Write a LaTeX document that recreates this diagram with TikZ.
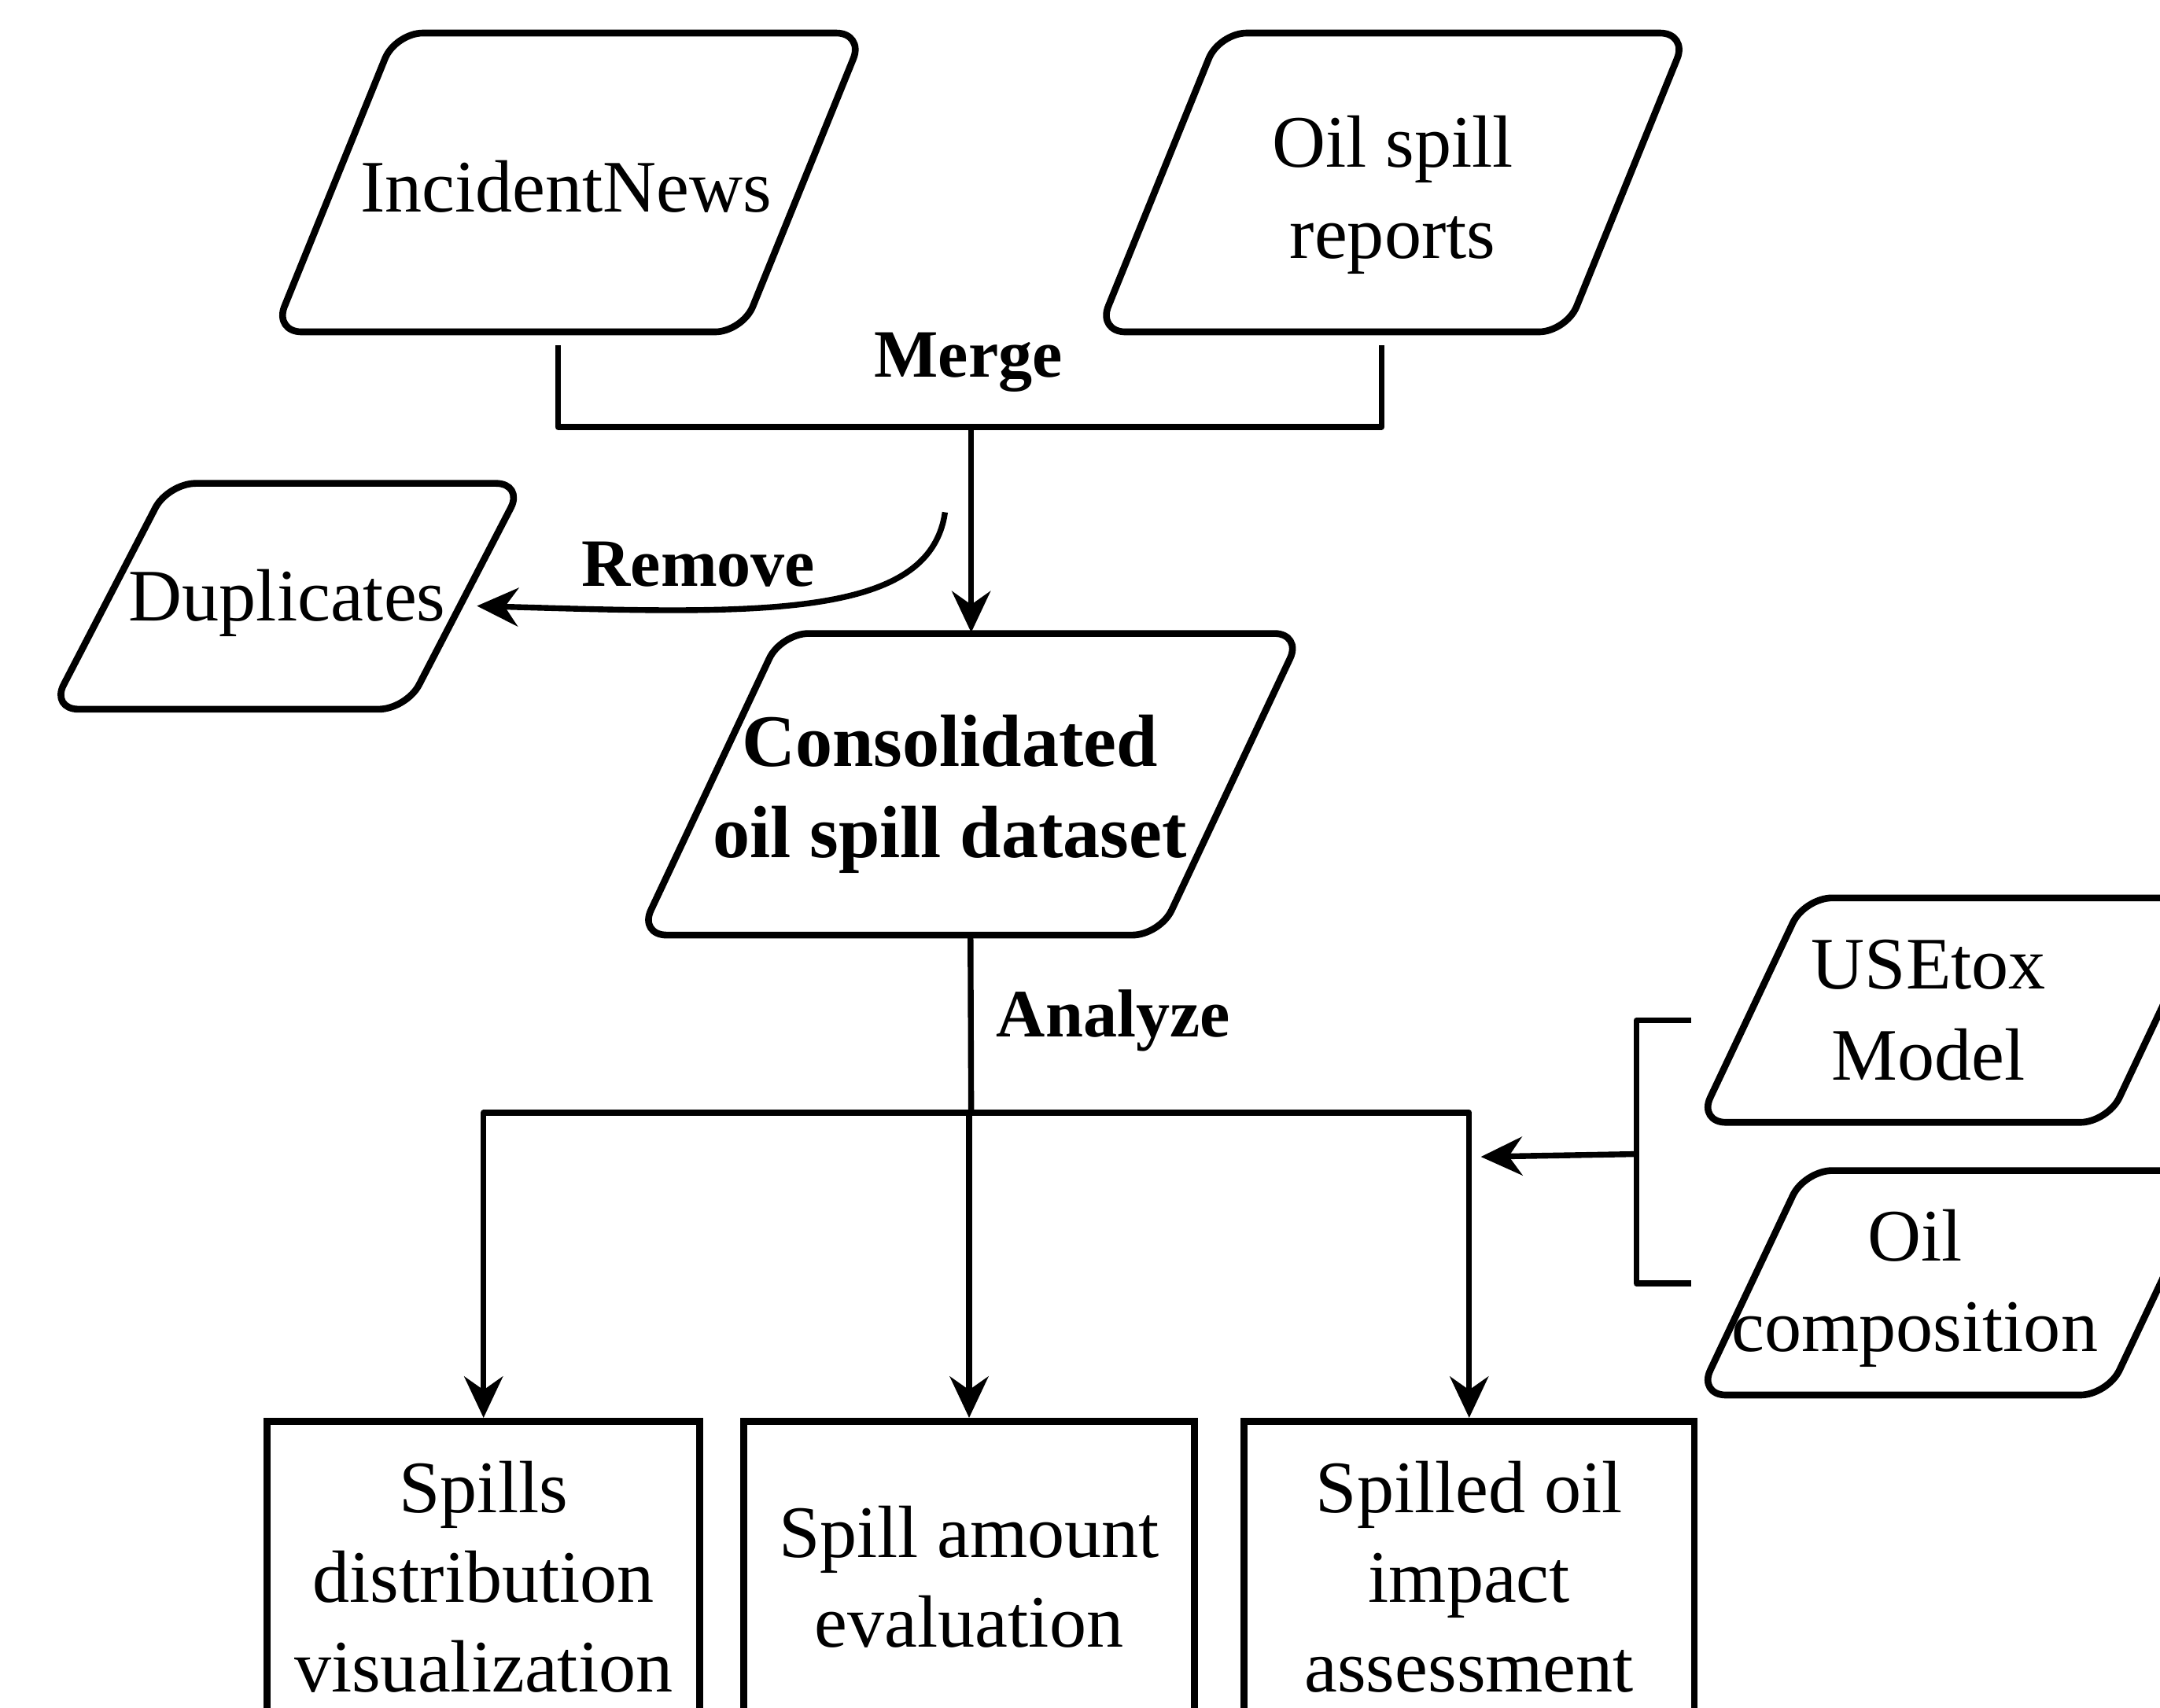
\documentclass[tikz,border=0pt]{standalone}
\usepackage{fontspec}
\setmainfont{Liberation Serif}
\usetikzlibrary{arrows.meta,calc}

\begin{document}
\begin{tikzpicture}[x=1mm, y=-1mm, line join=round,
    iobox/.style={inner sep=0pt, align=center, font=\fontsize{15.3}{18.8}\selectfont},
    ioline/.style={line width=1.4pt, rounded corners=2mm},
    taskbox/.style={draw, line width=1.4pt, line join=miter, inner sep=0pt, align=center,
      minimum width=32.7mm, minimum height=22.6mm, font=\fontsize{15.3}{18.5}\selectfont},
    link/.style={line width=1.2pt},
    flow/.style={link, -{Stealth[length=3mm, width=2.8mm]}},
    verb/.style={font=\fontsize{14}{16}\selectfont\bfseries}]
  \useasboundingbox (0,0) rectangle (156.8,124);
  \clip (0,0) rectangle (156.8,124);

  % data sources and data sets: slanted boxes, x y half-width half-height slant, text shift
  \foreach \nm/\cx/\cy/\w/\h/\s/\dx/\dy/\txt in {
      inc/41.3/13.25/17/10.85/4.4/-0.2/0.3/IncidentNews,
      osr/101.1/13.25/17/10.85/4.4/0/0.9/{Oil spill\\reports},
      dup/20.85/43.3/12.9/8.2/4.25/0/0.5/Duplicates,
      cons/70.45/56.95/18.9/10.95/5.15/-1.5/0.7/{\bfseries Consolidated\\\bfseries oil spill dataset},
      use/142/73.35/14.85/8.15/3.85/-2/0/{USEtox\\Model},
      oil/142/93.15/14.85/8.15/3.85/-3/0.4/{Oil\\composition}} {
    \node[inner sep=0pt, minimum width={2*\w*1mm}, minimum height={2*\h*1mm}] (\nm) at (\cx,\cy) {};
    \node[iobox] (\nm-txt) at (\cx+\dx,\cy+\dy) {\txt};
    \draw[ioline] (\cx-\w+\s,\cy-\h) -- (\cx+\w+\s,\cy-\h) -- (\cx+\w-\s,\cy+\h)
      -- (\cx-\w-\s,\cy+\h) -- cycle;
  }

  \node[taskbox, minimum width=31.4mm] (spd) at (35.1,114.5) {Spills\\distribution\\visualization};
  \node[taskbox] (sae) at (70.35,114.5) {Spill amount\\evaluation};
  \node[taskbox] (soi) at (106.65,114.5) {Spilled oil\\impact\\assessment};

  \coordinate (mrg) at (70.5,31);
  \coordinate (rmv) at (68.6,37.2);
  \coordinate (split) at (70.5,80.8);
  \coordinate (bm) at (118.8,83.8);
  \coordinate (fed) at (107.5,84);

  % merge bracket under the two sources
  \draw[link] ($(inc.south)+(-0.8,0.9)$) |- (mrg) -| ($(osr.south)+(-0.8,0.9)$);
  \draw[flow] (mrg) -- (mrg |- cons.north);
  \node[verb] (mlbl) at (70.3,26.3) {Merge};

  \draw[flow] (rmv) .. controls (67.5,45) and (55,44.6) .. ($(dup.east)+(0.8,0.7)$);
  \node[verb] (rlbl) at (50.7,41) {Remove};

  \draw[link] (cons.south) -- (split);
  \node[verb, anchor=west] (albl) at (71.1,74.1) {Analyze};
  \foreach \b in {spd,sae,soi} { \draw[flow] (split) -| (\b.north); }

  % inputs for the impact assessment
  \draw[link] ($(use.west)+(-4.3,0.75)$) -| (bm) |- ($(oil.west)+(-4.3,0.05)$);
  \draw[flow] (bm) -- (fed);
\end{tikzpicture}
\end{document}
